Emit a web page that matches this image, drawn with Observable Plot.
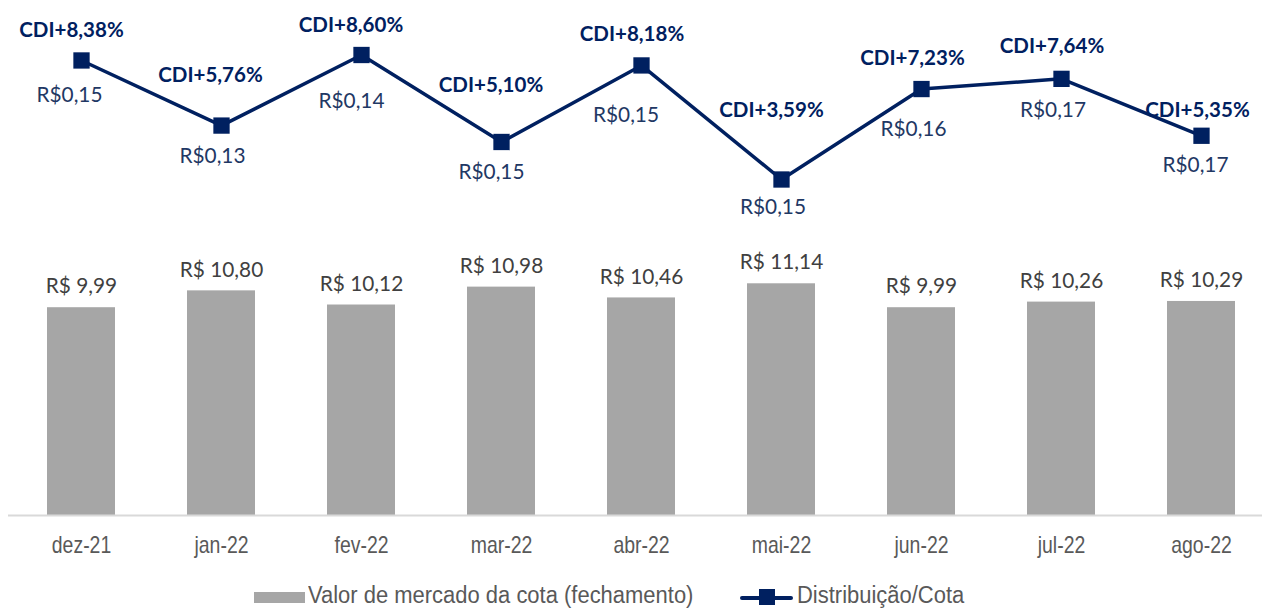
<!DOCTYPE html>
<html>
<head>
<meta charset="utf-8">
<script src="https://cdn.jsdelivr.net/npm/d3@7"></script>
<script src="https://cdn.jsdelivr.net/npm/@observablehq/plot@0.6"></script>
<style>
  html, body { margin: 0; padding: 0; background: #fff; }
  #wrap { position: relative; width: 1262px; height: 608px; overflow: hidden; }
  #wrap svg { position: absolute; left: 0; top: 0; background: transparent; }
  .leg { position: absolute; font-family: "Liberation Sans", Arial, sans-serif; font-size: 23px; color: #595959; white-space: nowrap; line-height: 1; transform-origin: left center; transform: scaleX(0.955); }
</style>
</head>
<body>
<div id="wrap"></div>
<script>
// ---- data ----
const months = ["dez-21", "jan-22", "fev-22", "mar-22", "abr-22", "mai-22", "jun-22", "jul-22", "ago-22"];
const marketValue = [9.99, 10.80, 10.12, 10.98, 10.46, 11.14, 9.99, 10.26, 10.29];
const distribution = [0.15, 0.13, 0.14, 0.15, 0.15, 0.15, 0.16, 0.17, 0.17];
const cdiSpread = [8.38, 5.76, 8.60, 5.10, 8.18, 3.59, 7.23, 7.64, 5.35];
const seriesNames = ["Valor de mercado da cota (fechamento)", "Distribuição/Cota"];

// ---- layout (label offsets, px) ----
const cdiLabelOffset = [[-10,-30.5],[-11,-50.5],[-10.5,-30],[-10.5,-56.5],[-9.5,-30.5],[-10,-69],[-9,-31],[-9.5,-32.5],[-4,-25.5]];
const distLabelOffset = [[-12,35],[-9,30.5],[-10,46.5],[-10,30],[-15.5,49.5],[-8.5,28],[-8,40.5],[-8.5,31],[-6,29.5]];

const rows = months.map((m, i) => ({month: m, value: marketValue[i], dist: distribution[i], cdi: cdiSpread[i]}));
const comma = (v) => v.toFixed(2).replace(".", ",");
const NAVY = "#002060";
const GRAY = "#a6a6a6";

const xcfg = {type: "band", domain: months, range: [7.625, 1274.375], paddingInner: 0.517, paddingOuter: 0.2585, axis: null};

const bars = Plot.plot({
  width: 1262, height: 582,
  marginLeft: 8, marginRight: 0, marginTop: 0, marginBottom: 67,
  style: {background: "transparent", fontFamily: "Lato, sans-serif"},
  x: xcfg,
  y: {domain: [0, 10], range: [515, 307], axis: null},
  marks: [
    Plot.barY(rows, {x: "month", y: "value", fill: GRAY}),
    Plot.ruleY([0], {stroke: "#d9d9d9", strokeWidth: 2}),
    Plot.text(rows, {x: "month", y: "value", text: d => "R$ " + comma(d.value), dy: -21, fontSize: 20.8, fill: "#404040", fontFamily: "Lato, sans-serif"}),
    Plot.text(rows, {x: "month", y: () => 0, text: "month", dy: 29.5, fontSize: 24, fill: "#595959", fontFamily: "'Liberation Sans', Arial, sans-serif"})
  ]
});

const line = Plot.plot({
  width: 1262, height: 582,
  marginLeft: 8, marginRight: 0, marginTop: 0, marginBottom: 67,
  style: {background: "transparent", fontFamily: "Lato, sans-serif", overflow: "visible"},
  x: xcfg,
  y: {domain: [3.59, 8.60], range: [179, 54.5], axis: null},
  marks: [
    Plot.line(rows, {x: "month", y: "cdi", stroke: NAVY, strokeWidth: 3.5}),
    Plot.dot(rows, {x: "month", y: "cdi", symbol: "square", r: 9.2, fill: NAVY, stroke: "none"}),
    ...rows.map((d, i) => Plot.text([d], {x: "month", y: "cdi", text: d => "CDI+" + comma(d.cdi) + "%", dx: cdiLabelOffset[i][0], dy: cdiLabelOffset[i][1], fontSize: 20.5, fontWeight: "bold", fill: NAVY, fontFamily: "Lato, sans-serif"})),
    ...rows.map((d, i) => Plot.text([d], {x: "month", y: "cdi", text: d => "R$" + comma(d.dist), dx: distLabelOffset[i][0], dy: distLabelOffset[i][1], fontSize: 20.8, fill: "#1f3864", fontFamily: "Lato, sans-serif"}))
  ]
});

const wrap = document.getElementById("wrap");
wrap.appendChild(bars);
wrap.appendChild(line);

// condense the category labels (narrow face, as in the reference)
bars.querySelectorAll("text").forEach(t => {
  if (months.includes(t.textContent)) {
    const w = t.getComputedTextLength();
    t.setAttribute("textLength", (w * 0.81).toFixed(1));
    t.setAttribute("lengthAdjust", "spacingAndGlyphs");
  }
});

// legend (below the plot area)
const leg1sw = document.createElement("div");
leg1sw.style.cssText = `position:absolute;left:254px;top:592px;width:51px;height:11px;background:${GRAY};`;
wrap.appendChild(leg1sw);
const leg1 = document.createElement("div");
leg1.className = "leg"; leg1.style.left = "308px"; leg1.style.top = "584px";
leg1.textContent = seriesNames[0];
wrap.appendChild(leg1);
const leg2line = document.createElement("div");
leg2line.style.cssText = `position:absolute;left:740px;top:596px;width:53px;height:3.5px;background:${NAVY};border-radius:2px;`;
wrap.appendChild(leg2line);
const leg2sq = document.createElement("div");
leg2sq.style.cssText = `position:absolute;left:759px;top:589px;width:16px;height:16px;background:${NAVY};`;
wrap.appendChild(leg2sq);
const leg2 = document.createElement("div");
leg2.className = "leg"; leg2.style.left = "797px"; leg2.style.top = "584px";
leg2.textContent = seriesNames[1];
wrap.appendChild(leg2);
</script>
</body>
</html>
